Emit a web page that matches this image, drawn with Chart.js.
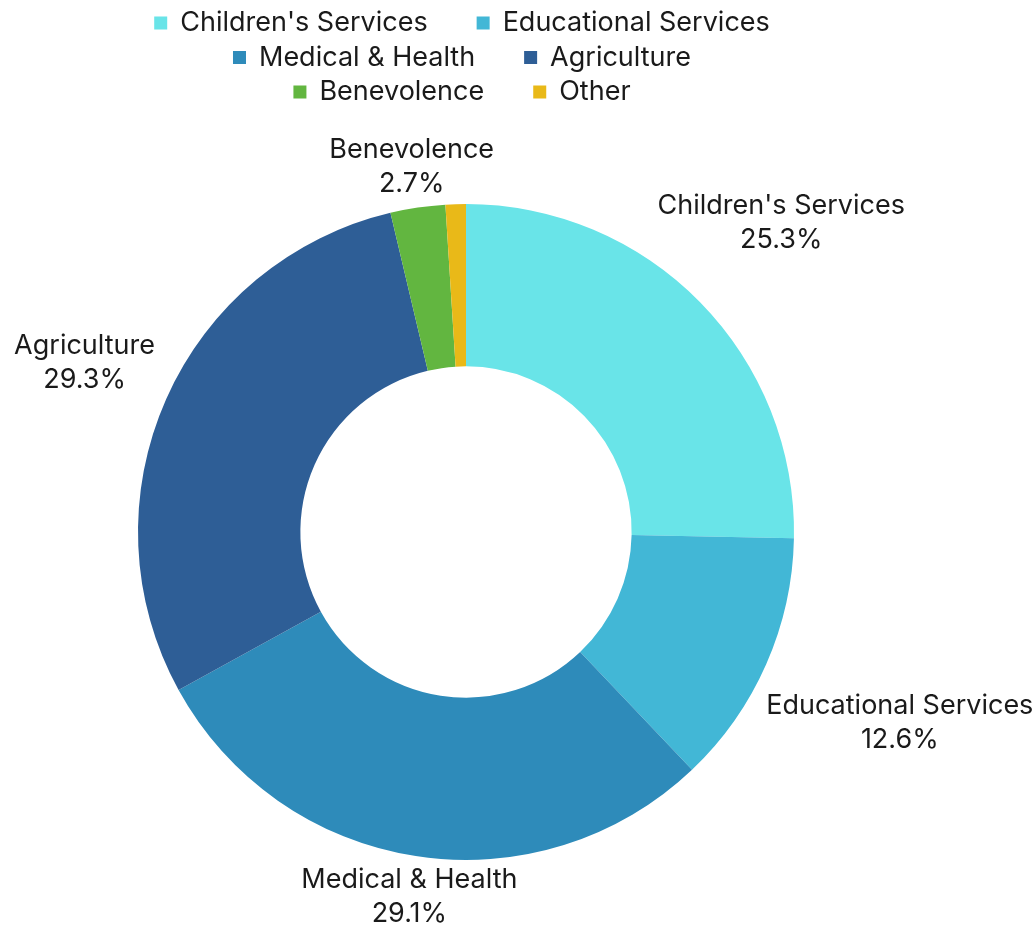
<!DOCTYPE html>
<html>
<head>
<meta charset="utf-8">
<script src="https://cdn.jsdelivr.net/npm/chart.js@4.4.1/dist/chart.umd.min.js"></script>
<style>
  html, body { margin: 0; padding: 0; background: #ffffff; }
  #wrap { position: relative; width: 1034px; height: 926px; }
</style>
</head>
<body>
<div id="wrap"><canvas id="c"></canvas></div>
<script>
const categories = ["Children's Services", "Educational Services", "Medical & Health", "Agriculture", "Benevolence", "Other"];
const shares = [25.3, 12.6, 29.1, 29.3, 2.7, 1.0];
const colors = ["#69e4e8", "#42b7d6", "#2e8bba", "#2e5e96", "#62b640", "#e9b918"];
const legendRows = [[0, 1], [2, 3], [4, 5]];
const showLabel = [true, true, true, true, true, false];

const FONT = "Inter, Roboto, sans-serif";
const FONT_SIZE = 27;
const TEXT_COLOR = "#1a1a1a";

const legendPlugin = {
  id: 'rowLegend',
  afterDraw(chart) {
    const ctx = chart.ctx;
    ctx.save();
    ctx.font = FONT_SIZE + "px " + FONT;
    ctx.textBaseline = 'middle';
    ctx.textAlign = 'left';
    const sq = 13, gapText = 13, gapItem = 49, cx = 462;
    const rowY = [23, 57.5, 92];
    legendRows.forEach((row, r) => {
      const widths = row.map(i => sq + gapText + ctx.measureText(categories[i]).width);
      const total = widths.reduce((a, b) => a + b, 0) + gapItem * (row.length - 1);
      let x = cx - total / 2;
      row.forEach((i, k) => {
        ctx.fillStyle = colors[i];
        ctx.fillRect(x, rowY[r] - sq / 2, sq, sq);
        ctx.fillStyle = TEXT_COLOR;
        ctx.fillText(categories[i], x + sq + gapText, rowY[r]);
        x += widths[k] + gapItem;
      });
    });
    ctx.restore();
  }
};

const labelPlugin = {
  id: 'outsideLabels',
  afterDatasetsDraw(chart) {
    const ctx = chart.ctx;
    const meta = chart.getDatasetMeta(0);
    ctx.save();
    ctx.font = FONT_SIZE + "px " + FONT;
    ctx.fillStyle = TEXT_COLOR;
    ctx.textAlign = 'center';
    ctx.textBaseline = 'middle';
    const lineH = 34;
    const boxH = 62;
    const padX = 7;
    meta.data.forEach((arc, i) => {
      if (!showLabel[i]) return;
      const p = arc.getProps(['x', 'y', 'startAngle', 'endAngle', 'outerRadius'], true);
      const mid = (p.startAngle + p.endAngle) / 2;
      const ux = Math.cos(mid), uy = Math.sin(mid);
      const l1 = categories[i];
      const l2 = shares[i].toFixed(1) + "%";
      const w = Math.max(ctx.measureText(l1).width, ctx.measureText(l2).width) + 2 * padX;
      const D = p.outerRadius + 6;
      const dist = (t) => {
        const bx = t * ux, by = t * uy;
        const dx = Math.max(Math.abs(bx) - w / 2, 0);
        const dy = Math.max(Math.abs(by) - boxH / 2, 0);
        return Math.hypot(dx, dy);
      };
      let lo = 0, hi = 2000;
      for (let k = 0; k < 60; k++) {
        const m = (lo + hi) / 2;
        if (dist(m) < D) lo = m; else hi = m;
      }
      const cx = p.x + hi * ux, cy = p.y + hi * uy;
      ctx.fillText(l1, cx, cy - lineH / 2);
      ctx.fillText(l2, cx, cy + lineH / 2);
    });
    ctx.restore();
  }
};

new Chart(document.getElementById('c'), {
  type: 'doughnut',
  data: {
    labels: categories,
    datasets: [{
      data: shares,
      backgroundColor: colors,
      borderWidth: 0,
      hoverOffset: 0
    }]
  },
  options: {
    responsive: true,
    maintainAspectRatio: false,
    animation: false,
    cutout: '50.5%',
    layout: { padding: { top: 204, left: 138, right: 240, bottom: 66 } },
    plugins: {
      legend: { display: false },
      tooltip: { enabled: false }
    }
  },
  plugins: [legendPlugin, labelPlugin]
});
</script>
</body>
</html>
